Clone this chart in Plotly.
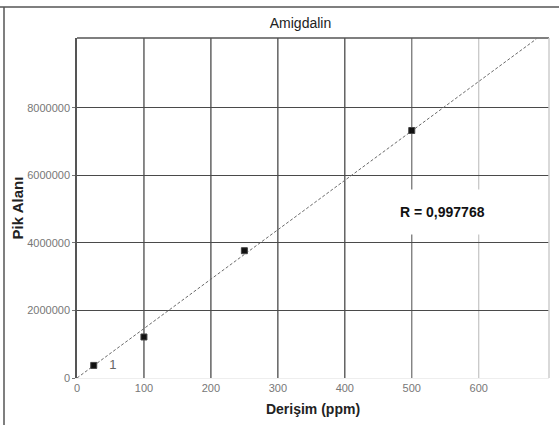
import plotly.graph_objects as go

# Data
conc = [25, 100, 250, 500]            # Derişim (ppm)
area = [373000, 1215000, 3770000, 7330000]  # Pik Alanı
point_labels = ["   1", "", "", ""]
trend_x = [0, 686]
trend_y = [0, 10040000]
r_text = "R = 0,997768"
x_ticks = [0, 100, 200, 300, 400, 500, 600]
y_ticks = [0, 2000000, 4000000, 6000000, 8000000]
y_ticklabels = ["0", "2000000", "4000000", "6000000", "8000000"]

W, H = 559, 425
ML, MR, MT, MB = 77, 10, 38, 47
pw, ph = W - ML - MR, H - MT - MB
XMAX, YMAX = 705, 10070000

fig = go.Figure()
fig.add_trace(go.Scatter(x=trend_x, y=trend_y, mode="lines",
                         line=dict(color="#6a6a6a", width=1, dash="3px,2px"),
                         hoverinfo="skip", showlegend=False))
fig.add_trace(go.Scatter(x=conc, y=area, mode="markers+text",
                         marker=dict(symbol="square", size=6, color="#111111",
                                     line=dict(color="#444", width=1)),
                         text=point_labels, textposition="middle right",
                         textfont=dict(family="Liberation Sans, Arial, sans-serif", size=13, color="#666"),
                         showlegend=False))

shapes = []
vcolors = {100: "#4a4a4a", 200: "#4a4a4a", 300: "#4a4a4a", 400: "#4a4a4a", 500: "#777777", 600: "#c8c8c8"}
for xv in x_ticks[1:]:
    shapes.append(dict(type="line", xref="x", yref="paper", x0=xv, x1=xv, y0=0, y1=1,
                       line=dict(color=vcolors[xv], width=1.3), layer="below"))
# plot frame: top dark, right light
shapes.append(dict(type="line", xref="paper", yref="paper", x0=0, x1=1, y0=1, y1=1,
                   line=dict(color="#555", width=1.5)))
shapes.append(dict(type="line", xref="paper", yref="paper", x0=1, x1=1, y0=0, y1=1,
                   line=dict(color="#cccccc", width=1.5)))
# outer border (top and left)
shapes.append(dict(type="line", xref="paper", yref="paper",
                   x0=(0 - ML) / pw, x1=(W - ML) / pw, y0=(H - MB - 7) / ph, y1=(H - MB - 7) / ph,
                   line=dict(color="#555", width=1.5)))
shapes.append(dict(type="line", xref="paper", yref="paper",
                   x0=(4 - ML) / pw, x1=(4 - ML) / pw, y0=(H - MB - 7) / ph, y1=-MB / ph,
                   line=dict(color="#555", width=1.5)))

fig.update_layout(
    width=W, height=H,
    margin=dict(l=ML, r=MR, t=MT, b=MB),
    paper_bgcolor="white", plot_bgcolor="white",
    font=dict(family="Liberation Sans, Arial, sans-serif", color="#222"),
    title=dict(text="Amigdalin", x=(300.5 - ML) / pw, xref="paper", xanchor="center",
               y=1 - 23 / H, yanchor="middle",
               font=dict(size=14, color="#222")),
    xaxis=dict(range=[0, XMAX], tickvals=x_ticks, showgrid=False, zeroline=False,
               showline=True, linecolor="#eeeeee", linewidth=1,
               ticks="", tickfont=dict(size=11, color="#777"),
               title=dict(text="<b>Derişim (ppm)</b>", font=dict(size=14, color="#222"), standoff=10)),
    yaxis=dict(range=[0, YMAX], tickvals=y_ticks, ticktext=y_ticklabels,
               showgrid=True, gridcolor="#4a4a4a", gridwidth=1.3, zeroline=False,
               showline=True, linecolor="#555", linewidth=1.5,
               ticks="outside", ticklen=3, tickcolor="#777",
               tickfont=dict(size=11, color="#777"),
               title=dict(text="<b>Pik Alanı</b>", font=dict(size=15, color="#222"), standoff=0)),
    shapes=shapes,
    annotations=[dict(x=(442 - ML) / pw * XMAX, y=(378 - 212) / 340 * YMAX, xref="x", yref="y",
                      xanchor="center", yanchor="middle", text="<b>" + r_text + "</b>",
                      showarrow=False, bgcolor="white", borderpad=14,
                      font=dict(size=14, color="#111"))],
)

fig.write_html("out.html")
